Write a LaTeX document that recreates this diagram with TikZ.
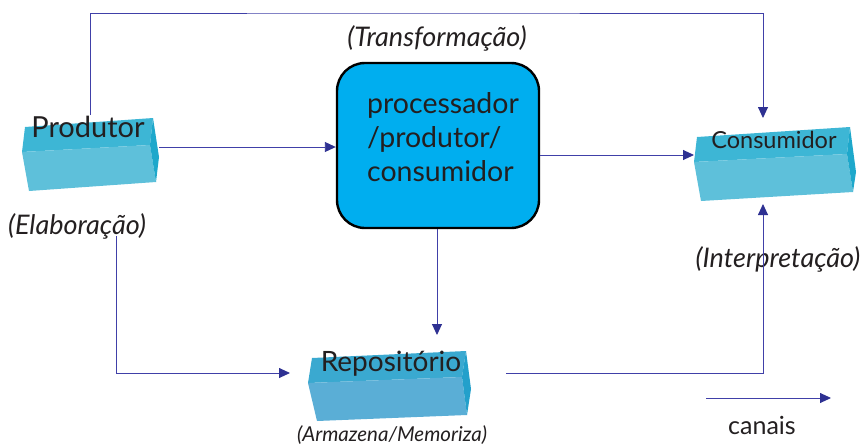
\documentclass[tikz,border=0pt]{standalone}
\usepackage{fontspec}
\setmainfont{Lato}
\usetikzlibrary{arrows.meta}
\definecolor{lnc}{HTML}{4040A8}
\definecolor{arc}{HTML}{2E3192}
\definecolor{topc}{HTML}{3DB6D5}
\definecolor{frontc}{HTML}{5EC0DA}
\definecolor{sidec}{HTML}{1EA8CB}
\definecolor{rtop}{HTML}{3AA9D0}
\definecolor{rfront}{HTML}{5AAED6}
\definecolor{rside}{HTML}{23A0CB}
\definecolor{procc}{HTML}{00AEEF}
\definecolor{txt}{HTML}{231F20}
\tikzset{
  conn/.style={draw=lnc, line width=0.9pt, -{Triangle[length=11pt,width=10pt,fill=arc,color=arc]}},
  lbl/.style={text=txt, inner sep=0pt, anchor=base},
  ital/.style={text=txt, inner sep=0pt, anchor=base, font=\itshape\fontsize{27}{30}\selectfont},
}
\begin{document}
\begin{tikzpicture}[x=1pt,y=-1pt]
\useasboundingbox (0,0) rectangle (863,445);
% Produtor box
\fill[topc] (22,152) -- (25,127) -- (153,118) -- (150,145) -- cycle;
\fill[frontc] (22,152) -- (150,145) -- (156,182) -- (29,191) -- cycle;
\fill[sidec] (150,145) -- (153,118) -- (159,157) -- (156,182) -- cycle;
% Consumidor box
\fill[topc] (694,162) -- (697,137) -- (850,127) -- (847,154) -- cycle;
\fill[frontc] (694,162) -- (847,154) -- (853,192) -- (701,201) -- cycle;
\fill[sidec] (847,154) -- (850,127) -- (856,172) -- (853,192) -- cycle;
% Repositorio box
\fill[rtop] (308,383) -- (312,358) -- (466,351) -- (462,377) -- cycle;
\fill[rfront] (308,383) -- (462,377) -- (467,415) -- (317,421) -- cycle;
\fill[rside] (462,377) -- (466,351) -- (471,389) -- (467,415) -- cycle;
% Processor box
\node[draw=black, line width=2.4pt, fill=procc, rounded corners=28pt,
      minimum width=202pt, minimum height=165pt, inner sep=0pt] (proc) at (438,145.5) {};
\node[text=txt, align=left, anchor=north west, inner sep=0pt,
      font=\fontsize{28.5}{34}\selectfont] (proctxt) at (367,92) {processador\\/produtor/\\consumidor};
% box labels
\node[lbl, font=\fontsize{29}{32}\selectfont] (prod) at (88,137) {Produtor};
\node[lbl, font=\fontsize{23.5}{26}\selectfont] (cons) at (774,148) {Consumidor};
\node[lbl, font=\fontsize{28}{32}\selectfont] (repo) at (391,371) {Repositório};
% italic labels
\node[ital] (transf) at (437,46) {(Transformação)};
\node[ital] (elab) at (77,234) {(Elaboração)};
\node[ital] (interp) at (778,267) {(Interpretação)};
\node[ital, font=\itshape\fontsize{20.5}{23}\selectfont] (arm) at (392,441) {(Armazena/Memoriza)};
\node[lbl, font=\fontsize{25}{28}\selectfont] (canaistxt) at (762,434) {canais};
% connector coordinates
\coordinate (prodTop) at (90,115);
\coordinate (prodRight) at (159,147);
\coordinate (prodBot) at (116,236);
\coordinate (consTop) at (763,118);
\coordinate (consLeft) at (694,155);
\coordinate (consBot) at (763,204);
\coordinate (repoLeft) at (290,373);
\coordinate (repoRight) at (506,373);
\coordinate (repoTop) at (437,335);
\coordinate (cA) at (706,398);
\coordinate (cB) at (831,398);
% connectors
\draw[conn] (prodTop) |- (400,13) -| (consTop);
\draw[conn] (prodRight) -- (proc.west |- prodRight);
\draw[conn] (proc.east |- consLeft) -- (consLeft);
\draw[conn] (proc.south -| repoTop) -- (repoTop);
\draw[conn] (prodBot) |- (repoLeft);
\draw[conn] (repoRight) -| (consBot);
\draw[conn] (cA) -- (cB);
\end{tikzpicture}
\end{document}
